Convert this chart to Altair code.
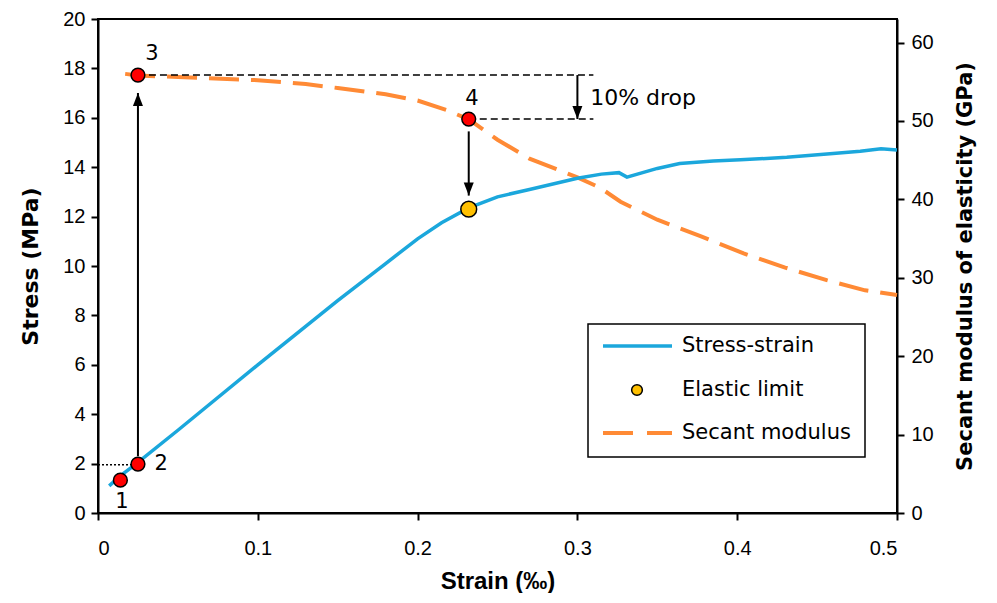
import altair as alt
import pandas as pd

# ---- data ----
strain_ss = [0.007, 0.014, 0.024, 0.05, 0.1, 0.15, 0.18, 0.2, 0.215, 0.232, 0.25, 0.27, 0.3, 0.315,
             0.326, 0.331, 0.35, 0.364, 0.385, 0.402, 0.431, 0.46, 0.477, 0.49, 0.5]
stress_ss = [1.1, 1.5, 2.0, 3.35, 6.0, 8.6, 10.1, 11.1, 11.75, 12.35, 12.8, 13.1, 13.55, 13.72,
             13.78, 13.6, 13.95, 14.15, 14.25, 14.3, 14.4, 14.55, 14.65, 14.75, 14.7]

strain_sec = [0.017, 0.025, 0.05, 0.1, 0.13, 0.15, 0.18, 0.2, 0.218, 0.232, 0.25, 0.27, 0.3,
              0.314, 0.327, 0.35, 0.377, 0.404, 0.43, 0.456, 0.48, 0.5]
modulus_sec = [56.0, 55.8, 55.6, 55.2, 54.7, 54.2, 53.4, 52.6, 51.4, 50.2, 47.6, 45.2, 42.8,
               41.5, 39.7, 37.4, 35.3, 33.1, 31.3, 29.7, 28.4, 27.8]

key_strain = [0.014, 0.025, 0.025, 0.232]
key_stress = [1.33, 1.98, 17.73, 15.95]
key_label = ["1", "2", "3", "4"]
label_strain = [0.015, 0.0395, 0.0338, 0.234]
label_stress = [0.45, 2.0, 18.6, 16.76]

limit_strain = [0.232]
limit_stress = [12.3]

dash_y = [17.73, 15.95]
dash_from = [0.025, 0.232]
dash_to = [0.31, 0.31]

dot_y = [1.95]
dot_from = [0.0]
dot_to = [0.022]

arrow_x = [0.025, 0.232, 0.30]
arrow_from = [2.3, 15.45, 17.73]
arrow_to = [17.0, 12.85, 15.95]
arrow_dir = ["up", "down", "down"]

drop_text = ["10% drop"]
drop_strain = [0.308]
drop_stress = [16.8]

legend_labels = ["Stress-strain", "Elastic limit", "Secant modulus"]

FONT = "DejaVu Sans"
TICKFONT = "Liberation Sans"
NARROW = "Liberation Sans Narrow, Liberation Sans"
BLUE = "#1ba7dc"
ORANGE = "#ff8a35"

ss = pd.DataFrame({"strain": strain_ss, "stress": stress_ss})
sec = pd.DataFrame({"strain": strain_sec, "modulus": modulus_sec})
keys = pd.DataFrame({"strain": key_strain, "stress": key_stress})
labels = pd.DataFrame({"strain": label_strain, "stress": label_stress, "t": key_label})
limit = pd.DataFrame({"strain": limit_strain, "stress": limit_stress})
dashes = pd.DataFrame({"y": dash_y, "x1": dash_from, "x2": dash_to})
dots = pd.DataFrame({"y": dot_y, "x1": dot_from, "x2": dot_to})
arrows = pd.DataFrame({"x": arrow_x, "y1": arrow_from, "y2": arrow_to, "d": arrow_dir})
drop = pd.DataFrame({"x": drop_strain, "y": drop_stress, "t": drop_text})

xscale = alt.Scale(domain=[0, 0.5], nice=False)
yscale = alt.Scale(domain=[0, 20], nice=False)

xaxis = alt.Axis(values=[0, 0.1, 0.2, 0.3, 0.4, 0.5],
                 labelExpr="datum.value == 0 ? '0' : format(datum.value, '.1f')",
                 title="Strain (‰)", labelPadding=18, titlePadding=11,
                 titleFont=NARROW, titleFontSize=24)
yaxis = alt.Axis(values=list(range(0, 21, 2)), title="Stress (MPa)",
                 labelPadding=6, titlePadding=20, titleFontSize=22)

X = alt.X("strain:Q", scale=xscale, axis=xaxis)
Y = alt.Y("stress:Q", scale=yscale, axis=yaxis)

blue_line = alt.Chart(ss).mark_line(color=BLUE, strokeWidth=3.5).encode(x=X, y=Y)

dash_rules = alt.Chart(dashes).mark_rule(color="black", strokeWidth=1.5, strokeDash=[7, 4]).encode(
    x=alt.X("x1:Q", scale=xscale), x2="x2:Q", y=alt.Y("y:Q", scale=yscale))
dot_rules = alt.Chart(dots).mark_rule(color="black", strokeWidth=1.5, strokeDash=[2, 2]).encode(
    x=alt.X("x1:Q", scale=xscale), x2="x2:Q", y=alt.Y("y:Q", scale=yscale))
arrow_rules = alt.Chart(arrows).mark_rule(color="black", strokeWidth=2).encode(
    x=alt.X("x:Q", scale=xscale), y=alt.Y("y1:Q", scale=yscale), y2="y2:Q")
head_up = alt.Chart(arrows).transform_filter("datum.d == 'up'").mark_point(
    shape="M0,0L-1,2.6L1,2.6Z", size=100, filled=True, color="black", opacity=1).encode(
    x=alt.X("x:Q", scale=xscale), y=alt.Y("y2:Q", scale=yscale))
head_down = alt.Chart(arrows).transform_filter("datum.d == 'down'").mark_point(
    shape="M0,0L-1,-2.6L1,-2.6Z", size=100, filled=True, color="black", opacity=1).encode(
    x=alt.X("x:Q", scale=xscale), y=alt.Y("y2:Q", scale=yscale))

red_pts = alt.Chart(keys).mark_point(shape="circle", size=190, filled=True, fill="red",
                                     stroke="black", strokeWidth=1.5, opacity=1).encode(
    x=alt.X("strain:Q", scale=xscale), y=alt.Y("stress:Q", scale=yscale))
yellow_pt = alt.Chart(limit).mark_point(shape="circle", size=250, filled=True, fill="#ffc000",
                                        stroke="black", strokeWidth=1.5, opacity=1).encode(
    x=alt.X("strain:Q", scale=xscale), y=alt.Y("stress:Q", scale=yscale))
num_text = alt.Chart(labels).mark_text(font=FONT, fontSize=21, color="black").encode(
    x=alt.X("strain:Q", scale=xscale), y=alt.Y("stress:Q", scale=yscale), text="t:N")
drop_lbl = alt.Chart(drop).mark_text(font=FONT, fontSize=22, color="black", align="left").encode(
    x=alt.X("x:Q", scale=xscale), y=alt.Y("y:Q", scale=yscale), text="t:N")

left = alt.layer(blue_line, dash_rules, dot_rules, arrow_rules, head_up, head_down,
                 red_pts, yellow_pt, num_text, drop_lbl)

right = alt.Chart(sec).mark_line(color=ORANGE, strokeWidth=4, strokeDash=[30, 12]).encode(
    x=alt.X("strain:Q", scale=xscale),
    y=alt.Y("modulus:Q", scale=alt.Scale(domain=[0, 63], nice=False),
            axis=alt.Axis(orient="right", values=list(range(0, 61, 10)),
                          title="Secant modulus of elasticity (GPa)", titleAngle=270,
                          labelPadding=7, titlePadding=42, titleFontSize=21)))

# ---- manual legend ----
one = pd.DataFrame({"t": [legend_labels[0]]})
two = pd.DataFrame({"t": [legend_labels[1]]})
three = pd.DataFrame({"t": [legend_labels[2]]})
leg_box = alt.Chart(one).mark_rect(fill="white", stroke="black", strokeWidth=1.5).encode(
    x=alt.value(490), x2=alt.value(767), y=alt.value(305), y2=alt.value(438))
leg_l1 = alt.Chart(one).mark_rule(color=BLUE, strokeWidth=3.5).encode(
    x=alt.value(505), x2=alt.value(574), y=alt.value(327))
leg_pt = alt.Chart(two).mark_point(shape="circle", size=115, filled=True, fill="#ffc000",
                                   stroke="black", strokeWidth=1.5, opacity=1).encode(
    x=alt.value(539), y=alt.value(371))
leg_l3 = alt.Chart(three).mark_rule(color=ORANGE, strokeWidth=4, strokeDash=[30, 14]).encode(
    x=alt.value(505), x2=alt.value(574), y=alt.value(414))
leg_t1 = alt.Chart(one).mark_text(font=FONT, fontSize=21, align="left", color="black").encode(
    x=alt.value(584), y=alt.value(327), text="t:N")
leg_t2 = alt.Chart(two).mark_text(font=FONT, fontSize=21, align="left", color="black").encode(
    x=alt.value(584), y=alt.value(371), text="t:N")
leg_t3 = alt.Chart(three).mark_text(font=FONT, fontSize=21, align="left", color="black").encode(
    x=alt.value(584), y=alt.value(414), text="t:N")

legend = alt.layer(leg_box, leg_l1, leg_pt, leg_l3, leg_t1, leg_t2, leg_t3)

chart = alt.layer(right, left, legend).resolve_scale(y="independent").properties(
    width=799, height=494,
    autosize=alt.AutoSizeParams(type="none"),
    padding={"left": 90, "top": 11, "right": 90, "bottom": 80},
).configure_view(stroke="black", strokeWidth=2).configure_axis(
    grid=False, domainColor="black", domainWidth=2, tickColor="black", tickWidth=2,
    tickSize=7, labelFont=TICKFONT, titleFont=FONT, labelFontSize=20, titleFontSize=21,
    labelColor="black", titleColor="black", titleFontWeight="bold",
)

chart.save("out.html", embed_options={"renderer": "svg", "actions": False})
